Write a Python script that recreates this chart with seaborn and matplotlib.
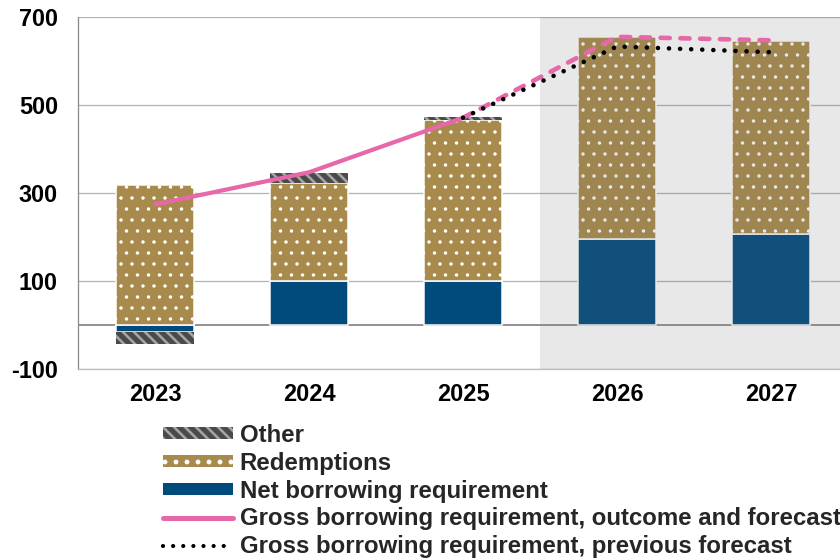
import numpy as np
import matplotlib
matplotlib.use("Agg")
import matplotlib.pyplot as plt
from matplotlib.patches import Patch
from matplotlib.lines import Line2D
import seaborn as sns

# ---- data (SEK bn) ----
years = ["2023", "2024", "2025", "2026", "2027"]
net_borrowing = [-17, 101, 99, 195, 206]
redemptions = [318, 221, 367, 460, 439]
other = [-27, 24, 6, 0, 0]
gross_outcome = [274, 347, 471, 655, 647]
gross_previous = [np.nan, np.nan, 471, 633, 620]
forecast_start = "2026"

legend_labels = [
    "Other",
    "Redemptions",
    "Net borrowing requirement",
    "Gross borrowing requirement, outcome and forecast",
    "Gross borrowing requirement, previous forecast",
]

# ---- style ----
DPI = 66
W_PX, H_PX = 840, 560


def pt(px):
    """Convert a pixel length to points at the figure dpi."""
    return px * 72.0 / DPI


BLUE = "#004A7C"
GOLD = "#A88B4C"
OTHER_FACE = "#4A4A4A"
OTHER_HATCH = "#A5A5A5"
PINK = "#E668A9"
GRID = "#B5B5B5"
DOT_LW = 1.2

sns.set_style("white")
plt.rcParams["font.family"] = ["Liberation Sans", "DejaVu Sans"]
plt.rcParams["font.weight"] = "bold"
plt.rcParams["axes.unicode_minus"] = False

fig = plt.figure(figsize=(W_PX / DPI, H_PX / DPI), dpi=DPI)
ax = fig.add_axes([78 / W_PX, 1 - 369 / H_PX, 1 - 78 / W_PX, (369 - 17) / H_PX])

net = np.array(net_borrowing, dtype=float)
red = np.array(redemptions, dtype=float)
oth = np.array(other, dtype=float)

red_bottom = np.maximum(net, 0)
other_bottom = np.where(oth > 0, red_bottom + red, np.minimum(net, 0))

bar_kw = dict(width=0.51, edgecolor="white", linewidth=pt(1.5),
              saturation=1, errorbar=None, ax=ax, zorder=3)

sns.barplot(x=years, y=net, color=BLUE, **bar_kw)

plt.rcParams["hatch.linewidth"] = pt(DOT_LW)
sns.barplot(x=years, y=red, bottom=red_bottom, color=GOLD, hatch=".",
            **bar_kw)

mask = oth != 0
oth_years = [y for y, m in zip(years, mask) if m]
plt.rcParams["hatch.linewidth"] = pt(2.6)
sns.barplot(x=oth_years, y=oth[mask], bottom=other_bottom[mask],
            color=OTHER_FACE, hatch="\\\\",
            **{**bar_kw, "edgecolor": OTHER_HATCH, "linewidth": 0})

# gross borrowing requirement: outcome (solid) and forecast (dashed)
sns.lineplot(x=years[:3], y=gross_outcome[:3], color=PINK,
             linewidth=pt(4.2), solid_capstyle="round", ax=ax, zorder=6)
sns.lineplot(x=years[2:], y=gross_outcome[2:], color=PINK,
             linewidth=pt(4.6), linestyle=(0, (2.0, 2.3)),
             dash_capstyle="round", ax=ax, zorder=6)
prev_idx = [i for i, v in enumerate(gross_previous) if not np.isnan(v)]
sns.lineplot(x=[years[i] for i in prev_idx],
             y=[gross_previous[i] for i in prev_idx],
             color="black", linewidth=pt(4.6), linestyle=(0, (0.01, 2.4)),
             dash_capstyle="round", ax=ax, zorder=7)

# shaded forecast period
x0 = years.index(forecast_start) - 0.5
ax.axvspan(x0, 5, color="#707070", alpha=0.16, lw=0, zorder=4)

# axes
ax.set_xlim(-0.5, 4.448)
ax.set_ylim(-100, 700)
ax.set_yticks([-100, 100, 300, 500, 700])
ax.set_xticks(range(len(years)), years)
ax.yaxis.grid(True, color=GRID, linewidth=pt(1.3), zorder=0)
ax.xaxis.grid(False)
ax.set_axisbelow(True)
ax.axhline(0, color="#7A7A7A", linewidth=pt(1.6), zorder=2)
ax.set_xlabel("")
ax.set_ylabel("")
for side in ("top", "right"):
    ax.spines[side].set_visible(False)
ax.spines["left"].set_color("#8C8C8C")
ax.spines["left"].set_linewidth(pt(1.3))
ax.spines["bottom"].set_color("#C0C0C0")
ax.spines["bottom"].set_linewidth(pt(1.3))
ax.tick_params(axis="both", length=0, labelsize=pt(23.5), labelcolor="black")
ax.tick_params(axis="y", pad=pt(20))
ax.tick_params(axis="x", pad=pt(14))
for lab in ax.get_xticklabels() + ax.get_yticklabels():
    lab.set_fontweight("bold")

# legend
plt.rcParams["hatch.linewidth"] = pt(DOT_LW)
h_red = Patch(facecolor=GOLD, edgecolor="white", hatch=".", linewidth=0)
plt.rcParams["hatch.linewidth"] = pt(2.6)
h_oth = Patch(facecolor=OTHER_FACE, edgecolor=OTHER_HATCH, hatch="\\\\",
              linewidth=0)
h_net = Patch(facecolor=BLUE, edgecolor="none")
h_gross = Line2D([], [], color=PINK, linewidth=pt(5), solid_capstyle="round")
h_prev = Line2D([], [], color="black", linewidth=pt(4.2),
                linestyle=(0, (0.01, 2.4)), dash_capstyle="round")
LEG_FS = 24
leg = fig.legend([h_oth, h_red, h_net, h_gross, h_prev], legend_labels,
                 loc="upper left", bbox_to_anchor=(163 / W_PX, 1 - 424 / H_PX),
                 frameon=False, fontsize=pt(LEG_FS), handlelength=70 / LEG_FS,
                 handleheight=0.4, handletextpad=0.28, labelspacing=0.2,
                 borderpad=0, borderaxespad=0)
for t in leg.get_texts():
    t.set_fontweight("bold")

fig.savefig("out.png", dpi=DPI)
